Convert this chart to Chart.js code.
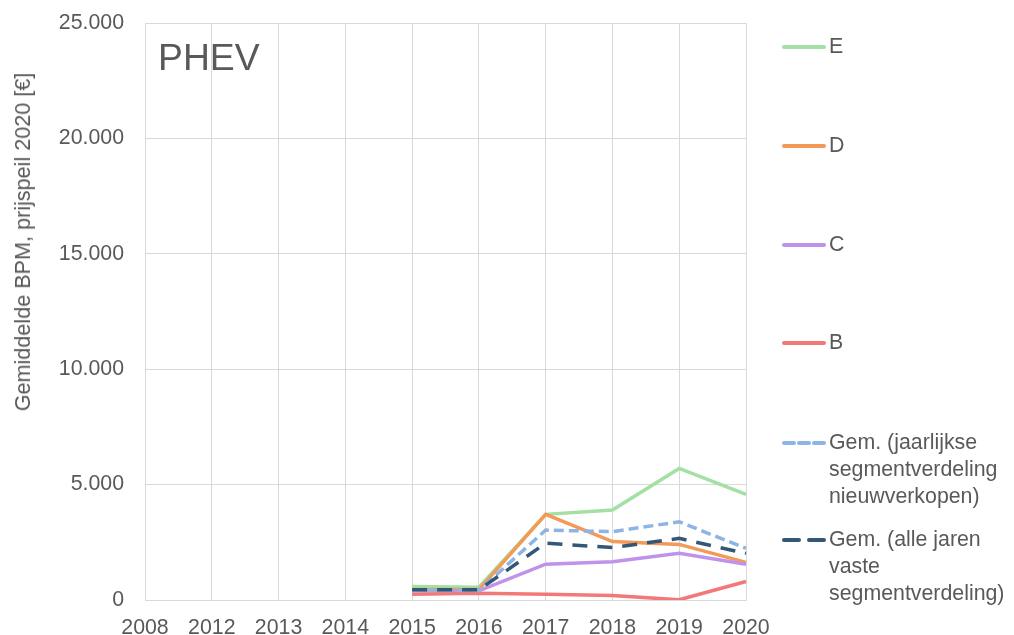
<!DOCTYPE html>
<html>
<head>
<meta charset="utf-8">
<script src="https://cdn.jsdelivr.net/npm/chart.js@4.4.1/dist/chart.umd.min.js"></script>
<style>
  body { margin: 0; background: #fff; font-family: "Liberation Sans", Arial, sans-serif; color: #595959; }
  #wrap { position: relative; width: 1014px; height: 635px; overflow: hidden; }
  #yTitle { position: absolute; left: 23px; top: 242px; transform: translate(-50%, -50%) rotate(-90deg); white-space: nowrap; font-size: 21.6px; }
  #phev { position: absolute; left: 158px; top: 39px; font-size: 37.33px; line-height: 1; }
  .legItem { position: absolute; left: 782px; display: flex; align-items: flex-start; font-size: 21.33px; line-height: 27px; white-space: pre-line; }
  .legItem svg { margin-top: 11px; margin-right: 3px; flex: none; }
</style>
</head>
<body>
<div id="wrap">
  <canvas id="bpmChart" width="1014" height="635"></canvas>
  <div id="yTitle">Gemiddelde BPM, prijspeil 2020 [€]</div>
  <div id="phev">PHEV</div>
  <div id="legend"></div>
</div>
<script>
////// data //////
const years = ['2008', '2012', '2013', '2014', '2015', '2016', '2017', '2018', '2019', '2020'];

const segE = [null, null, null, null, 580, 550, 3710, 3900, 5700, 4580];
const segD = [null, null, null, null, 450, 450, 3710, 2530, 2410, 1630];
const segC = [null, null, null, null, 400, 400, 1550, 1660, 2020, 1550];
const segB = [null, null, null, null, 250, 290, 250, 190, 10, 800];
const gemJaarlijks = [null, null, null, null, 410, 410, 3030, 2960, 3390, 2240];
const gemVast = [null, null, null, null, 440, 440, 2460, 2270, 2670, 2020];

const yTicks = [0, 5000, 10000, 15000, 20000, 25000];

////// styling //////
const textColor = '#595959';
const gridColor = '#d9d9d9';
const fontSpec = { family: '"Liberation Sans", Arial, sans-serif', size: 21.33 };

// thousands separator with a dot (nl)
function fmt(v) {
    return String(v).replace(/\B(?=(\d{3})+(?!\d))/g, '.');
}

const series = [
    { label: 'E', data: segE, color: '#a3e0a3', dash: [], order: 6 },
    { label: 'D', data: segD, color: '#f39a58', dash: [], order: 5 },
    { label: 'C', data: segC, color: '#bf93ea', dash: [], order: 4 },
    { label: 'B', data: segB, color: '#f37878', dash: [], order: 3 },
    { label: 'Gem. (jaarlijkse\nsegmentverdeling\nnieuwverkopen)', data: gemJaarlijks, color: '#8db4e2', dash: [10, 5], order: 2 },
    { label: 'Gem. (alle jaren\nvaste\nsegmentverdeling)', data: gemVast, color: '#325777', dash: [15, 10], order: 1 }
];

////// chart //////
const canvas = document.querySelector('#bpmChart');

let bpmChart = new Chart(canvas, {
    type: 'line',
    data: {
        labels: years,
        datasets: series.map(s => ({
            label: s.label,
            data: s.data,
            borderColor: s.color,
            backgroundColor: s.color,
            borderWidth: 3.5,
            borderDash: s.dash,
            pointRadius: 0,
            tension: 0,
            order: s.order
        }))
    },
    options: {
        responsive: false,
        animation: false,
        layout: { padding: { top: 23, right: 268, bottom: 0, left: 0 } },
        plugins: {
            legend: { display: false },
            tooltip: { enabled: false }
        },
        scales: {
            x: {
                offset: false,
                afterFit: s => { s.height = 35; },
                grid: { color: gridColor, drawTicks: false, lineWidth: 1 },
                border: { color: gridColor },
                ticks: { color: textColor, font: fontSpec, padding: 15, maxRotation: 0, autoSkip: false }
            },
            y: {
                min: 0,
                max: 25000,
                afterFit: s => { s.width = 145; },
                afterBuildTicks: s => { s.ticks = yTicks.map(v => ({ value: v })); },
                // invisible tick marks keep the label gap without padding the chart top
                grid: { color: gridColor, drawTicks: true, tickLength: 18, tickColor: 'rgba(0,0,0,0)', lineWidth: 1 },
                border: { color: gridColor },
                ticks: { color: textColor, font: fontSpec, padding: 3, callback: v => fmt(v) }
            }
        }
    }
});

////// legend (html, multi-line labels) //////
const legendY = [46, 145, 244, 342, 442, 539]; // centre of first text line
const legendBox = document.querySelector('#legend');
series.forEach((s, i) => {
    const item = document.createElement('div');
    item.className = 'legItem';
    item.style.top = (legendY[i] - 13.5) + 'px';
    item.innerHTML = '<svg width="44" height="6"><line x1="2" y1="3" x2="42" y2="3" stroke="' + s.color +
        '" stroke-width="4" stroke-linecap="round" stroke-dasharray="' + (s.dash.length ? s.dash.join(' ') : 'none') + '"/></svg>';
    const txt = document.createElement('span');
    txt.textContent = s.label;
    item.appendChild(txt);
    legendBox.appendChild(item);
});
</script>
</body>
</html>
